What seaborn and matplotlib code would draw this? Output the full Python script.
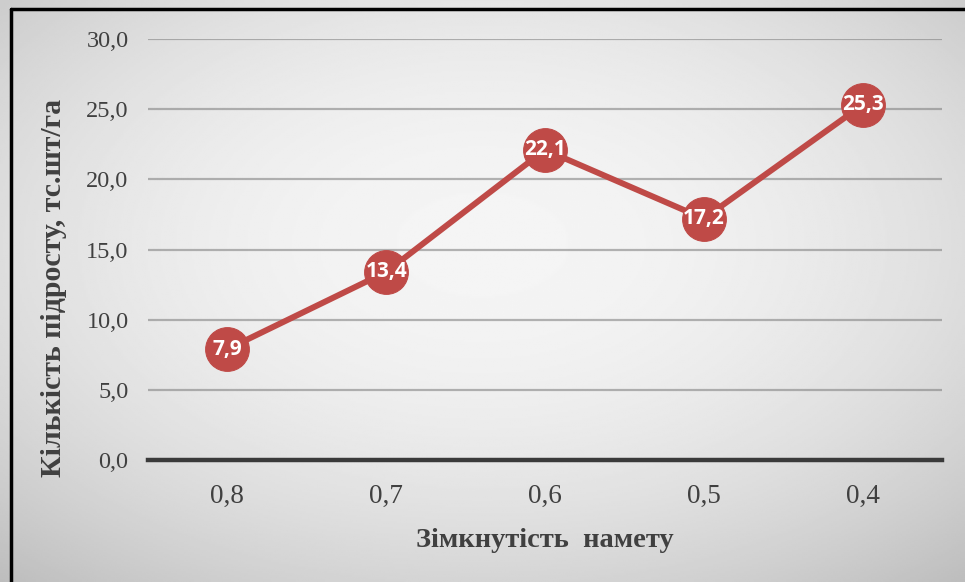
import numpy as np
import pandas as pd
import seaborn as sns
import matplotlib.pyplot as plt
from matplotlib.lines import Line2D

categories = ['0,8', '0,7', '0,6', '0,5', '0,4']
values = [7.9, 13.4, 22.1, 17.2, 25.3]
labels = ['7,9', '13,4', '22,1', '17,2', '25,3']
yticks = [0, 5, 10, 15, 20, 25, 30]

df = pd.DataFrame({'closure': categories, 'count': values})

sns.set_theme(style='white')
plt.rcParams['font.family'] = ['Liberation Serif', 'DejaVu Serif']

W, H = 965, 582
fig = plt.figure(figsize=(W / 100, H / 100), dpi=100)

# radial gray gradient background
bg = fig.add_axes([0, 0, 1, 1], zorder=-1)
yy, xx = np.mgrid[0:1:300j, 0:1:500j]
r = np.sqrt(((xx - 0.5) / 0.75) ** 2 + ((yy - 0.42) / 0.75) ** 2)
shade = 0.96 - 0.21 * r ** 2
bg.imshow(shade, cmap='gray', vmin=0, vmax=1, extent=[0, 1, 0, 1],
          aspect='auto', origin='upper')
bg.axis('off')

ax = fig.add_axes([148 / W, 1 - 460 / H, (942 - 148) / W, (460 - 39) / H])
ax.set_facecolor('none')

red = '#BF4A47'
sns.lineplot(data=df, x='closure', y='count', ax=ax, color=red, linewidth=4.3,
             marker='o', markersize=31.5, markeredgecolor=red, sort=False)

for i, (v, t) in enumerate(zip(values, labels)):
    ax.text(i, v, t, ha='center', va='center', color='white', fontsize=15,
            fontweight='bold', family=['Open Sans', 'DejaVu Sans'], zorder=5)

ax.set_xlim(-0.5, len(categories) - 0.5)
ax.set_ylim(0, 30)
ax.set_yticks(yticks)
ax.set_yticklabels([f'{t:.1f}'.replace('.', ',') for t in yticks])
ax.grid(axis='y', color='#7a7a7a', alpha=0.55, linewidth=1.6)
ax.set_axisbelow(True)
for s in ['top', 'right', 'left']:
    ax.spines[s].set_visible(False)
ax.spines['bottom'].set_color('#3a3a3a')
ax.spines['bottom'].set_linewidth(3.2)
ax.spines['bottom'].set_zorder(1)
ax.tick_params(axis='y', length=0, pad=14, labelsize=17.5, labelcolor='#404040')
ax.tick_params(axis='x', length=0, pad=17, labelsize=19.5, labelcolor='#404040')

ax.set_xlabel('Зімкнутість  намету', fontsize=20.5, fontweight='bold',
              color='#404040', labelpad=14)
ax.set_ylabel('Кількість підросту, тс.шт/га', fontsize=21.5, fontweight='bold',
              color='#404040')
ax.yaxis.set_label_coords((67 - 148) / (942 - 148), (460 - 288) / (460 - 39))

# black frame, only left and top edges fall inside the image
fig.add_artist(Line2D([10.5 / W, 10.5 / W], [0, 1 - 9 / H], color='black',
                      linewidth=2.5, transform=fig.transFigure))
fig.add_artist(Line2D([10.5 / W, 1], [1 - 9 / H, 1 - 9 / H], color='black',
                      linewidth=2.5, transform=fig.transFigure))

fig.savefig('out.png', dpi=100)
